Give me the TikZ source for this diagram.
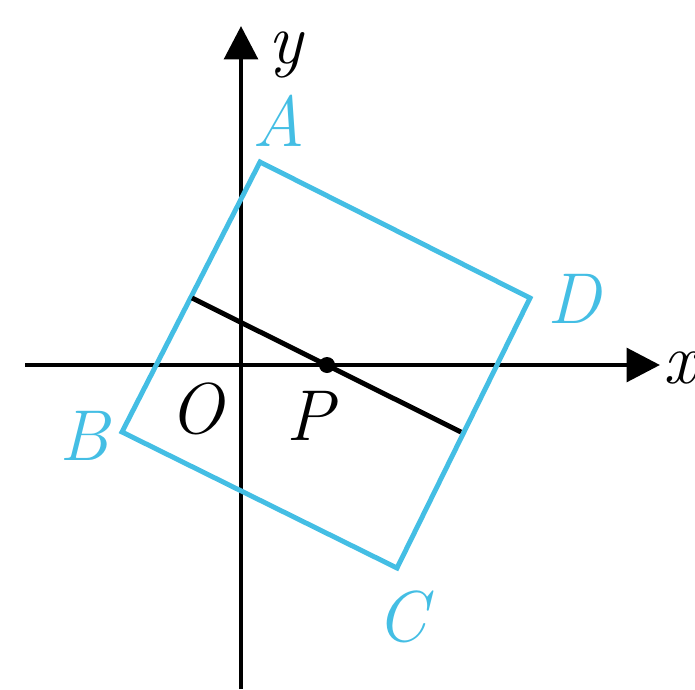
\documentclass[tikz,border=0pt]{standalone}
\usepackage{fontspec}
\usetikzlibrary{arrows.meta}
\definecolor{sqcol}{RGB}{68,190,228}
\begin{document}
\begin{tikzpicture}[x=0.02cm,y=-0.02cm,
  axis/.style={line width=2.8pt,-{Triangle[length=19pt,width=19pt]}},
  sq/.style={sqcol,line width=2.8pt,line join=miter},
  lbl/.style={inner sep=0pt,anchor=base,font=\fontsize{41}{48}\selectfont\itshape},
  qlbl/.style={lbl,text=sqcol}]
\useasboundingbox (0,0) rectangle (695,689);
\coordinate (xs) at (25,365);
\coordinate (xe) at (660,365);
\coordinate (ys) at (241,689);
\coordinate (ye) at (241,26);
\draw[axis] (xs) -- (xe);
\draw[axis] (ys) -- (ye);
\coordinate (A) at (260,162);
\coordinate (D) at (530,298);
\coordinate (C) at (397,568);
\coordinate (B) at (122,432);
\draw[sq] (A) -- (D) -- (C) -- (B) -- cycle;
\coordinate (M) at (192,298);
\coordinate (N) at (461,432);
\draw[line width=2.8pt] (M) -- (N);
\fill (327,365) circle (8) coordinate (P);
\node[lbl] (ly) at (286,64) {y};
\node[lbl] (lx) at (680,383) {x};
\node[lbl] (lO) at (197,433) {O};
\node[lbl] (lP) at (310,440) {P};
\node[qlbl] (lA) at (279,147) {A};
\node[qlbl] (lD) at (574,323) {D};
\node[qlbl] (lB) at (84,460) {B};
\node[qlbl] (lC) at (402,641) {C};
\end{tikzpicture}
\end{document}
